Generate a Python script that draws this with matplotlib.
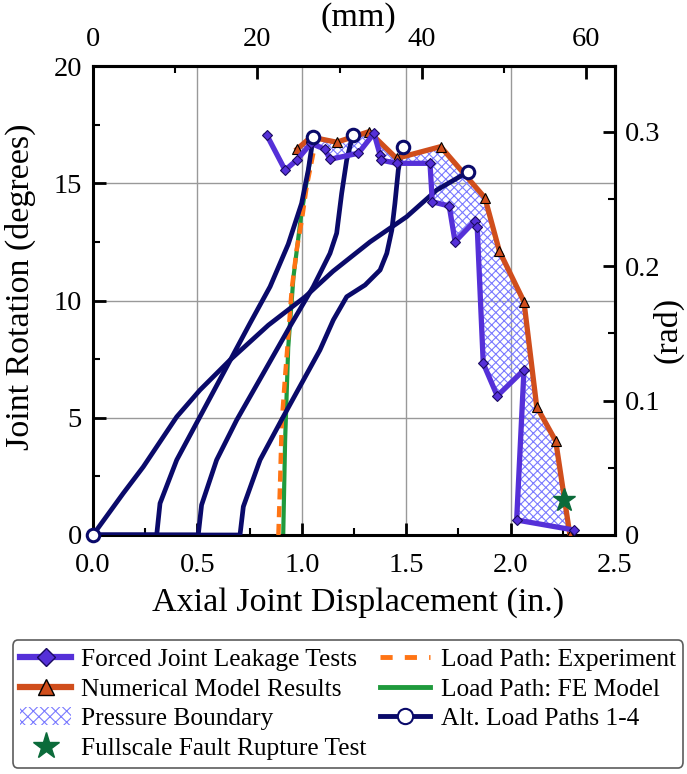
import matplotlib
matplotlib.use("Agg")
import matplotlib.pyplot as plt
import numpy as np
from matplotlib.lines import Line2D
from matplotlib.patches import Patch

plt.rcParams['font.family'] = ['Liberation Serif', 'DejaVu Serif']
plt.rcParams['hatch.color'] = '#7a7aff'
plt.rcParams['hatch.linewidth'] = 0.8

# Forced Joint Leakage Tests
leak_x = [0.832, 0.920, 0.976, 1.044, 1.111, 1.135, 1.271, 1.346, 1.375, 1.378, 1.454,
          1.614, 1.625, 1.706, 1.734, 1.830, 1.840, 1.869, 1.936, 2.064, 2.029, 2.305]
leak_y = [17.06, 15.56, 15.99, 16.70, 16.45, 16.02, 16.28, 17.13, 16.20, 15.99, 15.85,
          15.85, 14.21, 14.03, 12.51, 13.40, 13.15, 7.32, 5.93, 7.04, 0.64, 0.21]

# Numerical Model Results
num_x = [0.978, 1.044, 1.167, 1.322, 1.454, 1.665, 1.877, 1.946, 2.064, 2.125, 2.216, 2.284]
num_y = [16.46, 16.97, 16.75, 17.20, 16.06, 16.56, 14.38, 12.11, 9.95, 5.47, 4.01, 0.0]

# Fullscale Fault Rupture Test
star_x = [2.256]
star_y = [1.49]

# Load Path: Experiment
exp_x = [0.888, 0.896, 0.904, 0.920, 0.935, 0.952, 0.976, 1.000, 1.023, 1.055]
exp_y = [0.0, 2.2, 4.76, 6.75, 8.46, 10.5, 12.2, 13.43, 14.85, 16.28]

# Load Path: FE Model
fe_x = [0.911, 0.920, 0.935, 0.960, 0.995, 1.040]
fe_y = [0.0, 4.0, 8.0, 11.0, 13.5, 16.0]

# Alt. Load Paths 1-4
alt1_x = [0.0, 0.145, 0.241, 0.401, 0.512, 0.656, 0.840, 1.015, 1.150, 1.327, 1.502, 1.646, 1.797]
alt1_y = [0.0, 1.78, 2.91, 5.04, 6.18, 7.46, 8.95, 10.15, 11.25, 12.50, 13.57, 14.71, 15.49]
alt2_x = [0.0, 0.305, 0.321, 0.401, 0.512, 0.624, 0.752, 0.848, 0.935, 0.999, 1.031, 1.055]
alt2_y = [0.0, 0.0, 1.35, 3.20, 5.04, 6.90, 9.03, 10.59, 12.40, 14.14, 15.56, 16.98]
alt3_x = [0.0, 0.504, 0.520, 0.592, 0.688, 0.816, 0.950, 1.055, 1.135, 1.167, 1.191, 1.215, 1.244]
alt3_y = [0.0, 0.0, 1.28, 3.20, 4.90, 6.90, 9.00, 10.59, 12.01, 12.87, 14.57, 15.99, 17.06]
alt4_x = [0.0, 0.704, 0.720, 0.800, 0.911, 1.087, 1.151, 1.215, 1.303, 1.375, 1.407, 1.431, 1.446, 1.462, 1.483]
alt4_y = [0.0, 0.0, 1.21, 3.20, 5.04, 7.89, 9.17, 10.16, 10.66, 11.30, 12.01, 13.00, 14.14, 15.56, 16.56]

c_leak = '#5530d8'
c_num = '#d04e1c'
c_navy = '#0a0a6a'
c_exp = '#ff7414'
c_fe = '#1f9a3c'
c_star = '#0b6b3a'

fig = plt.figure(figsize=(6.87, 7.74), dpi=100)
ax = fig.add_axes([93/687, 1-535/774, (615-93)/687, (535-66)/774])

ax.set_xlim(0, 2.5)
ax.set_ylim(0, 20)
ax.grid(True, color='#999999', lw=1.0, zorder=0)
ax.set_axisbelow(True)

# pressure boundary (between leakage tests and model results)
px = leak_x[2:] + num_x[::-1]
py = leak_y[2:] + num_y[::-1]
ax.fill(px, py, facecolor='none', edgecolor='#7a7aff', hatch='xxxx', lw=0, zorder=1)

ax.plot(fe_x, fe_y, color=c_fe, lw=3, zorder=2)
ax.plot(exp_x, exp_y, color=c_exp, lw=3.2, ls=(0, (2.5, 1.5)), zorder=3)

for xs, ys in [(alt1_x, alt1_y), (alt2_x, alt2_y), (alt3_x, alt3_y), (alt4_x, alt4_y)]:
    ax.plot(xs, ys, color=c_navy, lw=3.4, zorder=4, solid_capstyle='round', solid_joinstyle='round')

ax.plot(num_x, num_y, color=c_num, lw=3.8, zorder=5, marker='^', ms=7,
        mfc=c_num, mec='black', mew=0.8)
ax.plot(leak_x, leak_y, color=c_leak, lw=3.8, zorder=6, marker='D', ms=5,
        mfc=c_leak, mec='#1a0a60', mew=0.8)

# end circles of alt paths
ends_x = [alt1_x[0], alt1_x[-1], alt2_x[-1], alt3_x[-1], alt4_x[-1]]
ends_y = [alt1_y[0], alt1_y[-1], alt2_y[-1], alt3_y[-1], alt4_y[-1]]
ax.plot(ends_x, ends_y, ls='none', marker='o', ms=9, mfc='white', mec=c_navy, mew=2.2,
        zorder=8, clip_on=False)

ax.plot(star_x, star_y, ls='none', marker='*', ms=17, color=c_star, zorder=9)

for s in ax.spines.values():
    s.set_linewidth(2.2)

tick_fs = 20.5
lab_fs = 24.5
ax.set_xticks(np.arange(0, 2.51, 0.5))
ax.set_xticklabels([f'{v:.1f}' for v in np.arange(0, 2.51, 0.5)])
ax.set_xticks(np.arange(0, 2.51, 0.25), minor=True)
ax.set_yticks(np.arange(0, 21, 5))
ax.set_yticks(np.arange(0, 21, 2.5), minor=True)
ax.tick_params(which='major', direction='in', length=9, width=2, labelsize=tick_fs)
ax.tick_params(axis='x', which='major', pad=13)
ax.tick_params(axis='y', which='major', pad=8)
ax.tick_params(which='minor', direction='in', length=5, width=1.5)
ax.tick_params(axis='x', which='both', top=False)
ax.tick_params(axis='y', which='both', right=False)

ax.set_xlabel('Axial Joint Displacement (in.)', fontsize=lab_fs)
ax.xaxis.set_label_coords((358-93)/522, (535-603)/469, transform=ax.transAxes)
ax.xaxis.label.set_va('center')
ax.set_ylabel('Joint Rotation (degrees)', fontsize=lab_fs)
ax.yaxis.set_label_coords((20-93)/522, (535-287)/469, transform=ax.transAxes)
ax.yaxis.label.set_va('center')

secx = ax.secondary_xaxis('top', functions=(lambda v: v * 25.4, lambda v: v / 25.4))
secx.set_xticks([0, 20, 40, 60])
secx.set_xticks([10, 30, 50], minor=True)
secx.tick_params(which='major', direction='in', length=9, width=2, labelsize=tick_fs, pad=10)
secx.tick_params(which='minor', direction='in', length=5, width=1.5)
secx.set_xlabel('(mm)', fontsize=lab_fs)
secx.xaxis.set_label_coords((358-93)/522, (535-18)/469, transform=ax.transAxes)
secx.xaxis.label.set_va('center')
secx.spines['top'].set_linewidth(2.2)

secy = ax.secondary_yaxis('right', functions=(np.deg2rad, np.rad2deg))
secy.set_yticks([0, 0.1, 0.2, 0.3])
secy.set_yticklabels(['0', '0.1', '0.2', '0.3'])
secy.set_yticks([0.05, 0.15, 0.25], minor=True)
secy.tick_params(which='major', direction='in', length=9, width=2, labelsize=tick_fs, pad=7)
secy.tick_params(which='minor', direction='in', length=5, width=1.5)
secy.set_ylabel('(rad)', fontsize=lab_fs)
secy.yaxis.set_label_coords((668-93)/522, (535-330)/469, transform=ax.transAxes)
secy.yaxis.label.set_va('center')
secy.spines['right'].set_linewidth(2.2)

handles = [
    Line2D([], [], color=c_leak, lw=4.5, marker='D', ms=9, mfc=c_leak, mec='#1a0a60'),
    Line2D([], [], color=c_num, lw=4.5, marker='^', ms=11, mfc=c_num, mec='black'),
    Patch(facecolor='none', edgecolor='#7a7aff', hatch='xxx', lw=0),
    Line2D([], [], ls='none', marker='*', ms=20, color=c_star),
    Line2D([], [], color=c_exp, lw=3.5, ls=(0, (2.5, 2.5))),
    Line2D([], [], color=c_fe, lw=3.5),
    Line2D([], [], color=c_navy, lw=3.5, marker='o', ms=11, mfc='white', mec=c_navy, mew=1.5),
]
labels = ['Forced Joint Leakage Tests', 'Numerical Model Results', 'Pressure Boundary',
          'Fullscale Fault Rupture Test', 'Load Path: Experiment', 'Load Path: FE Model',
          'Alt. Load Paths 1-4']
leg = fig.legend(handles, labels, loc='center', bbox_to_anchor=(348/687, 1-704/774), ncol=2,
                 fontsize=18.3, frameon=True, fancybox=True, edgecolor='#333333',
                 handlelength=2.0, handletextpad=0.4, columnspacing=0.5, labelspacing=0.27,
                 borderpad=0.3)
leg.get_frame().set_linewidth(1.2)

fig.savefig('out.png', dpi=100)
